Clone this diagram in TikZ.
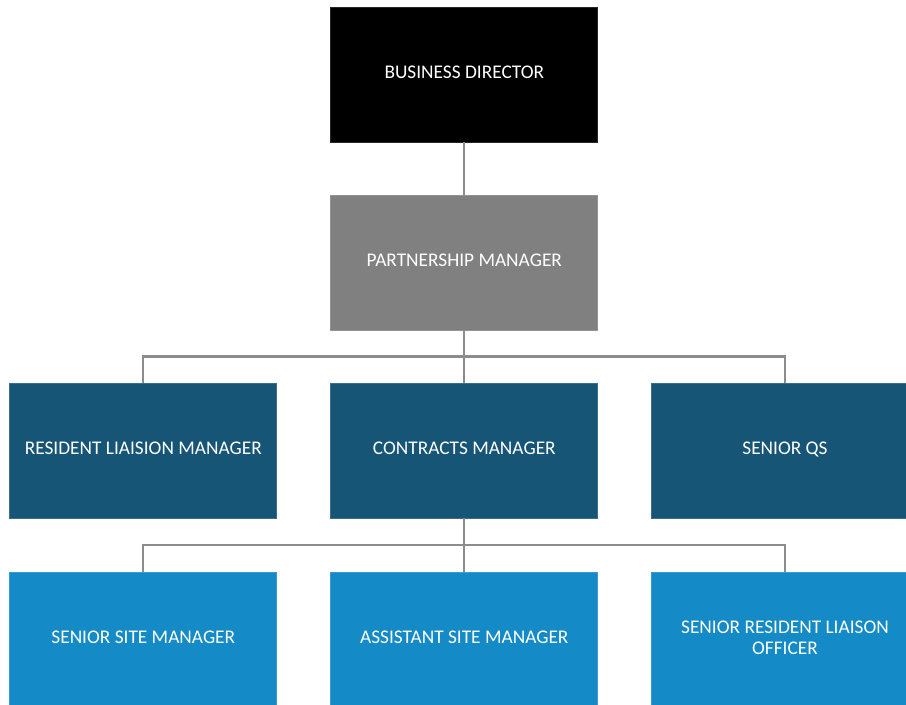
\documentclass[tikz,border=0pt]{standalone}
\usepackage{fontspec}
\setmainfont{Carlito}
\definecolor{dblue}{HTML}{175577}
\definecolor{lblue}{HTML}{148AC6}
\definecolor{mgray}{HTML}{808080}
\definecolor{lgray}{HTML}{8C8C8C}
\begin{document}
\begin{tikzpicture}[x=0.75pt,y=-0.75pt,
  box/.style={minimum width=200.25pt,minimum height=101.25pt,inner sep=0pt,text=white,font=\fontsize{14.5}{16}\selectfont,align=center,draw=#1!85!white,line width=0.5pt,fill=#1},
  conn/.style={draw=lgray,line width=1.6pt}]
\useasboundingbox (0,0) rectangle (906,704);
\clip (0,0) rectangle (906,704);
\node[box=black] (bd) at (464.3,74.5) {BUSINESS DIRECTOR\strut};
\node[box=mgray] (pm) at (464.3,262.5) {PARTNERSHIP MANAGER\strut};
\node[box=dblue] (rlm) at (143.3,450.5) {RESIDENT LIAISION MANAGER\strut};
\node[box=dblue] (cm) at (464.3,450.5) {CONTRACTS MANAGER\strut};
\node[box=dblue] (sqs) at (785,450.5) {SENIOR QS\strut};
\node[box=lblue] (ssm) at (143.3,639.5) {SENIOR SITE MANAGER\strut};
\node[box=lblue] (asm) at (464.3,639.5) {ASSISTANT SITE MANAGER\strut};
\node[box=lblue] (srlo) at (785,639.5) {SENIOR RESIDENT LIAISON\strut\\OFFICER\strut};
\coordinate (j1) at (464.3,356.5);
\coordinate (j2) at (464.3,545);
\draw[conn] (bd.south) -- (pm.north);
\draw[conn] (pm.south) -- (cm.north);
\draw[conn] (rlm.north) -- (rlm.north |- j1) -- (sqs.north |- j1) -- (sqs.north);
\draw[conn] (cm.south) -- (asm.north);
\draw[conn] (ssm.north) -- (ssm.north |- j2) -- (srlo.north |- j2) -- (srlo.north);
\end{tikzpicture}
\end{document}
